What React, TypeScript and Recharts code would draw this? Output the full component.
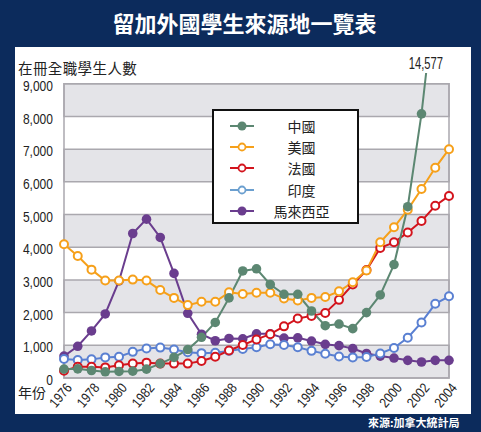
import { LineChart, Line, XAxis, YAxis, ReferenceArea, Legend, LabelList } from 'recharts';

const years = [
  1976, 1977, 1978, 1979, 1980, 1981, 1982, 1983, 1984, 1985, 1986, 1987, 1988, 1989, 1990,
  1991, 1992, 1993, 1994, 1995, 1996, 1997, 1998, 1999, 2000, 2001, 2002, 2003, 2004,
];

const china = [
  270, 280, 230, 190, 200, 210, 270, 440, 630, 870, 1245, 1700, 2450, 3275, 3340,
  2860, 2560, 2560, 2050, 1600, 1650, 1510, 2000, 2540, 3470, 5240, 8080, 11800, 14577,
];
const usa = [
  4090, 3730, 3315, 2980, 2980, 3010, 2980, 2690, 2450, 2230, 2330, 2330, 2620, 2570, 2610,
  2610, 2430, 2370, 2450, 2480, 2650, 2930, 3290, 4150, 4610, 5150, 5780, 6430, 7000,
];
const france = [
  225, 345, 345, 325, 390, 440, 470, 440, 440, 440, 520, 650, 840, 1010, 1180,
  1340, 1580, 1820, 1900, 1990, 2390, 2860, 3300, 3980, 4150, 4450, 4800, 5270, 5570,
];
const india = [
  580, 550, 570, 630, 650, 800, 900, 930, 870, 790, 760, 770, 830, 890, 940,
  1030, 1010, 940, 830, 740, 660, 630, 640, 750, 920, 1230, 1700, 2270, 2500,
];
const malaysia = [
  670, 970, 1440, 1960, 2970, 4420, 4860, 4300, 3200, 1980, 1340, 1140, 1210, 1200, 1350,
  1350, 1220, 1230, 1130, 1030, 990, 900, 750, 670, 610, 540, 490, 540, 540,
];

const yTicks = [0, 1000, 2000, 3000, 4000, 5000, 6000, 7000, 8000, 9000];
const labelYears = years.filter((y) => y % 2 === 0);
const minorTicks = years.slice(0, -1).map((y) => y + 0.5);
const grayBands = [0, 2000, 4000, 6000, 8000];

// legend order
const series = [
  { key: 'china', name: '中國', color: '#5c8772', legendColor: '#5c8772', hollow: false },
  { key: 'usa', name: '美國', color: '#f6a01a', legendColor: '#f6a01a', hollow: true },
  { key: 'france', name: '法國', color: '#d3141d', legendColor: '#d3141d', hollow: true },
  { key: 'india', name: '印度', color: '#5a80d2', legendColor: '#6b9fcf', hollow: true },
  { key: 'malaysia', name: '馬來西亞', color: '#6a3d8e', legendColor: '#6a3d8e', hollow: false },
];

// drawing order: China on top
const drawOrder = ['malaysia', 'india', 'france', 'usa', 'china'];

const data = years.map((year, i) => ({
  year,
  china: china[i],
  usa: usa[i],
  france: france[i],
  india: india[i],
  malaysia: malaysia[i],
}));

const SANS = '"Liberation Sans", Arial, sans-serif';
const CJK = '"Noto Sans CJK TC", "Noto Sans CJK SC", sans-serif';
const BLUE = '#0c2b5c';

// condensed look: squeeze Arial horizontally
const YearTick = ({ x, y, payload }: any) => (
  <g transform={`translate(${x + 5},${y + 5})`}>
    <text textAnchor="end" transform="rotate(-50) scale(0.85,1)" dy="0.35em" fontSize={14} fontFamily={SANS} fill="#222">
      {payload.value}
    </text>
  </g>
);

const CountTick = ({ x, y, payload }: any) => (
  <g transform={`translate(${x},${y + 2})`}>
    <text textAnchor="end" transform="scale(0.83,1)" dy="0.35em" fontSize={14.5} fontFamily={SANS} fill="#222">
      {Number(payload.value).toLocaleString('en-US')}
    </text>
  </g>
);

const PeakLabel = ({ x, index, value }: any) => {
  if (index !== years.length - 1) return null;
  return (
    <g transform={`translate(${x - 6},${65})`}>
      <text textAnchor="end" transform="scale(0.7,1)" dominantBaseline="middle" fontSize={16} fontFamily={SANS} fill="#222">
        {Number(value).toLocaleString('en-US')}
      </text>
    </g>
  );
};

const LegendBox = () => (
  <div
    style={{
      width: 143,
      height: 107,
      paddingTop: 4,
      border: '2px solid #111',
      background: '#fff',
      boxSizing: 'content-box',
      fontFamily: CJK,
      fontSize: 14,
      color: '#222',
    }}
  >
    {series.map((s) => (
      <div key={s.key} style={{ display: 'flex', alignItems: 'center', height: 21.3 }}>
        <svg width={24} height={12} style={{ marginLeft: 16 }}>
          <line x1={0} y1={6} x2={24} y2={6} stroke={s.legendColor} strokeWidth={2} />
          <circle
            cx={12}
            cy={6}
            r={s.hollow ? 3.5 : 4.5}
            fill={s.hollow ? '#fff' : s.legendColor}
            stroke={s.legendColor}
            strokeWidth={s.hollow ? 1.8 : 0}
          />
        </svg>
        <span style={{ flex: 1, textAlign: 'center', paddingRight: 8 }}>{s.name}</span>
      </div>
    ))}
  </div>
);

export default function App() {
  return (
    <div style={{ position: 'absolute', left: 0, top: 0, width: 481, height: 432, background: BLUE, overflow: 'hidden' }}>
      <div
        style={{
          position: 'absolute',
          left: 0,
          top: 6,
          width: 481,
          textAlign: 'center',
          color: '#fff',
          fontFamily: CJK,
          fontWeight: 700,
          fontSize: 22,
          lineHeight: '32px',
          paddingLeft: 4,
        }}
      >
        留加外國學生來源地一覽表
      </div>
      <div style={{ position: 'absolute', left: 15, top: 47, width: 456, height: 367, background: '#fff' }} />
      <div style={{ position: 'absolute', left: 18, top: 60, fontFamily: CJK, fontSize: 14.5, color: '#222', lineHeight: '15px', letterSpacing: 0.4 }}>
        在冊全職學生人數
      </div>
      <div style={{ position: 'absolute', left: 18, top: 381, fontFamily: CJK, fontSize: 14, color: '#222', lineHeight: '22px' }}>
        年份
      </div>
      <div
        style={{
          position: 'absolute',
          left: 368,
          top: 414,
          fontFamily: CJK,
          fontWeight: 700,
          fontSize: 11,
          color: '#fff',
          lineHeight: '16px',
        }}
      >
        來源:加拿大統計局
      </div>
      <div style={{ position: 'absolute', left: 0, top: 0 }}>
        <LineChart width={481} height={432} data={data} margin={{ top: 73, right: 25, bottom: 0, left: 0 }}>
          {grayBands.map((b) => (
            <ReferenceArea
              key={b}
              y1={b}
              y2={b + 1000}
              fill="#e4e4e8"
              fillOpacity={1}
              stroke="#aaa8ae"
              strokeWidth={1.5}
            />
          ))}
          <ReferenceArea y1={0} y2={9000} fill="none" stroke="#aaa8ae" strokeWidth={1.5} />
          <XAxis
            xAxisId="minor"
            type="number"
            domain={[1976, 2004]}
            allowDataOverflow
            ticks={minorTicks}
            tick={false}
            tickSize={6}
            tickLine={{ stroke: '#9a989e' }}
            axisLine={false}
            padding={{ left: 6, right: 7 }}
            height={0}
          />
          <XAxis
            dataKey="year"
            type="number"
            domain={[1976, 2004]}
            ticks={labelYears}
            interval={0}
            tick={<YearTick />}
            tickSize={0}
            tickLine={false}
            axisLine={false}
            padding={{ left: 6, right: 7 }}
            height={54}
          />
          <YAxis
            domain={[0, 9330]}
            allowDataOverflow
            ticks={yTicks}
            interval={0}
            tick={<CountTick />}
            tickSize={3}
            tickMargin={2}
            tickLine={false}
            axisLine={false}
            width={58}
          />
          <Legend
            layout="vertical"
            align="center"
            verticalAlign="middle"
            content={<LegendBox />}
            wrapperStyle={{ left: 212, top: 109, width: 147, height: 115 }}
          />
          {drawOrder.map((k) => {
            const s = series.find((x) => x.key === k)!;
            return (
              <Line
                key={k}
                dataKey={k}
                name={s.name}
                stroke={s.color}
                strokeWidth={2}
                isAnimationActive={false}
                dot={{ r: s.hollow ? 4 : 4.8, fill: s.hollow ? '#fff' : s.color, stroke: s.color, strokeWidth: s.hollow ? 2 : 0 }}
                activeDot={false}
              >
                {k === 'china' && <LabelList dataKey="china" content={<PeakLabel />} />}
              </Line>
            );
          })}
        </LineChart>
      </div>
    </div>
  );
}
